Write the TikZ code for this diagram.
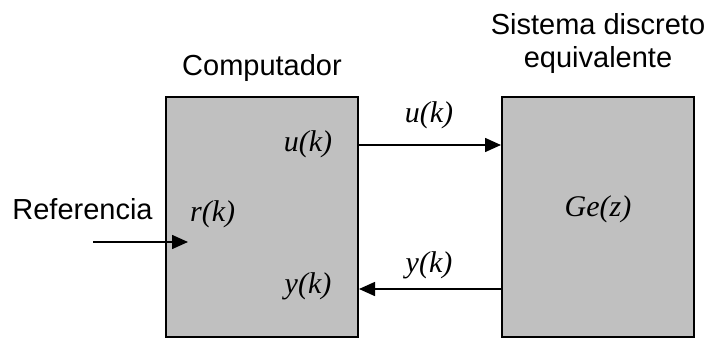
\documentclass[tikz,border=0pt]{standalone}
\usepackage{fontspec}
\setmainfont{Liberation Serif}
\newfontfamily\arialf{Liberation Sans}
\usetikzlibrary{arrows.meta}
\definecolor{boxgray}{HTML}{C0C0C0}
\tikzset{
  x=1pt,y=1pt,
  blockbox/.style={draw=black, fill=boxgray, line width=2pt, minimum width=192pt, minimum height=240pt, inner sep=0pt},
  sig/.style={font=\fontsize{30}{30}\selectfont\itshape, inner sep=0pt, anchor=base},
  lbl/.style={font=\arialf\fontsize{29}{33}\selectfont, inner sep=0pt, anchor=base, align=center},
  arr/.style={line width=1.5pt, -{Triangle[length=16pt,width=14pt]}}
}
\begin{document}
\begin{tikzpicture}
\useasboundingbox (0,0) rectangle (707,338);
\node[blockbox] (L) at (262,121) {};
\node[blockbox] (R) at (598,121) {};
\node[lbl] (comp) at (262,262) {Computador};
\node[lbl] (sis1) at (598,303) {Sistema discreto};
\node[lbl] (sis2) at (598,270) {equivalente};
\node[lbl] (ref) at (82.5,119) {Referencia};
\node[sig, anchor=base west] (rk) at (190,117) {r(k)};
\node[sig] (uk) at (308,186) {u(k)};
\node[sig] (yk) at (308,45) {y(k)};
\node[sig] (uk2) at (429,215) {u(k)};
\node[sig] (yk2) at (429,66) {y(k)};
\node[sig] (ge) at (598,122) {Ge(z)};
\coordinate (refin) at (93,96);
\draw[arr] ([yshift=72pt]L.east) -- ([yshift=72pt]R.west);
\draw[arr] ([yshift=-72pt]R.west) -- ([yshift=-72pt]L.east);
\draw[arr] (refin) -- ([xshift=23pt,yshift=-25pt]L.west);
\end{tikzpicture}
\end{document}
